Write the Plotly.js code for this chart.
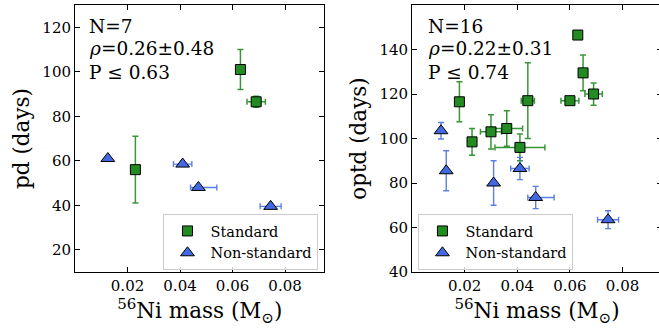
<!DOCTYPE html>
<html>
<head>
<meta charset="utf-8">
<script src="https://cdn.plot.ly/plotly-3.0.1.min.js"></script>
<style>
html, body { margin: 0; padding: 0; overflow: hidden; background: #fff; }
#chart { width: 665px; height: 331px; }
</style>
</head>
<body>
<div id="chart"></div>
<script>
// ---- Left panel: pd vs 56Ni mass ----
const stdNiPd = [0.023, 0.063, 0.069];
const stdNiPdErr = [0, 0, 0.0035];
const stdPd = [56, 101, 86.5];
const stdPdErr = [15, 9, 2.5];

const nonNiPd = [0.0125, 0.041, 0.047, 0.0745];
const nonNiPdErrMinus = [0, 0.0035, 0.003, 0.004];
const nonNiPdErrPlus = [0, 0.0035, 0.007, 0.004];
const nonPd = [61, 58.5, 48, 39.5];
const nonPdErr = [0, 0, 0, 0];

// ---- Right panel: optd vs 56Ni mass ----
const stdNiOptd = [0.018, 0.0228, 0.030, 0.036, 0.041, 0.044, 0.063, 0.065, 0.060, 0.069];
const stdNiOptdErr = [0, 0, 0.004, 0.006, 0.0095, 0.0025, 0, 0, 0.0034, 0.0033];
const stdOptd = [116.5, 98.5, 103, 104.5, 96, 117, 146.5, 129.5, 117, 120];
const stdOptdErr = [9, 6, 7.7, 8, 6, 17, 0, 8, 1.5, 5];

const nonNiOptd = [0.011, 0.013, 0.031, 0.041, 0.047, 0.0745];
const nonNiOptdErrMinus = [0, 0, 0, 0.0035, 0.003, 0.004];
const nonNiOptdErrPlus = [0, 0, 0, 0.0035, 0.007, 0.004];
const nonOptd = [103.5, 85.5, 80, 86.5, 73.5, 63.5];
const nonOptdErr = [3.7, 9, 10, 5, 5, 4];

const xTicks = [0.02, 0.04, 0.06, 0.08];
const xTickText = ['0.02', '0.04', '0.06', '0.08'];
const pdTicks = [20, 40, 60, 80, 100, 120];
const optdTicks = [40, 60, 80, 100, 120, 140, 160];

const statsLeft = ['N=7', '<i>ρ</i>=0.26±0.48', 'P ≤ 0.63'];
const statsRight = ['N=16', '<i>ρ</i>=0.22±0.31', 'P ≤ 0.74'];

const FONT = '"DejaVu Serif", "Liberation Serif", serif';
const GREEN = '#228B22';
const BLUE = '#4169E1';

function stdTrace(x, xe, y, ye, xa, ya, leg, showleg) {
  return {
    type: 'scatter', mode: 'markers', x: x, y: y, xaxis: xa, yaxis: ya,
    name: 'Standard', legend: leg, showlegend: showleg,
    marker: {symbol: 'square', size: 10, color: GREEN, line: {color: '#000', width: 1}},
    error_x: {type: 'data', array: xe, visible: true, color: 'rgba(34,139,34,0.9)', thickness: 1.5, width: 3},
    error_y: {type: 'data', array: ye, visible: true, color: 'rgba(34,139,34,0.9)', thickness: 1.5, width: 3}
  };
}
function nonTrace(x, xm, xp, y, ye, xa, ya, leg, showleg) {
  return {
    type: 'scatter', mode: 'markers', x: x, y: y, xaxis: xa, yaxis: ya,
    name: 'Non-standard', legend: leg, showlegend: showleg,
    marker: {symbol: 'triangle-up', size: 12, color: BLUE, line: {color: '#000', width: 1}},
    error_x: {type: 'data', symmetric: false, array: xp, arrayminus: xm, visible: true, color: 'rgba(65,105,225,0.85)', thickness: 1.4, width: 3},
    error_y: {type: 'data', array: ye, visible: true, color: 'rgba(65,105,225,0.85)', thickness: 1.4, width: 3}
  };
}

const data = [
  stdTrace(stdNiPd, stdNiPdErr, stdPd, stdPdErr, 'x', 'y', 'legend', true),
  nonTrace(nonNiPd, nonNiPdErrMinus, nonNiPdErrPlus, nonPd, nonPdErr, 'x', 'y', 'legend', true),
  stdTrace(stdNiOptd, stdNiOptdErr, stdOptd, stdOptdErr, 'x2', 'y2', 'legend2', true),
  nonTrace(nonNiOptd, nonNiOptdErrMinus, nonNiOptdErrPlus, nonOptd, nonOptdErr, 'x2', 'y2', 'legend2', true)
];

const W = 665, H = 331;
const L = 74.5, R = W - 661.6, T = 5, B = H - 272;
const PW = W - L - R;
const leftEnd = (324 - L) / PW;
const rightStart = (411.6 - L) / PW;

function xax(domain, anchor) {
  return {
    domain: domain, anchor: anchor, range: [0, 0.095],
    tickmode: 'array', tickvals: xTicks, ticktext: xTickText,
    ticks: 'inside', ticklen: 5, tickwidth: 1, tickcolor: '#000',
    showline: true, linecolor: '#000', linewidth: 1, mirror: 'ticks',
    showgrid: false, zeroline: false,
    tickfont: {family: FONT, size: 15, color: '#000'},
    title: {text: '<sup>56</sup>Ni mass (M<sub>⊙</sub>)', font: {family: FONT, size: 21.5, color: '#000'}, standoff: 6}
  };
}
function yax(range, ticks, title, anchor) {
  return {
    domain: [0, 1], anchor: anchor, range: range,
    tickmode: 'array', tickvals: ticks, ticktext: ticks.map(String),
    ticks: 'inside', ticklen: 5, tickwidth: 1, tickcolor: '#000',
    showline: true, linecolor: '#000', linewidth: 1, mirror: 'ticks',
    showgrid: false, zeroline: false,
    tickfont: {family: FONT, size: 15, color: '#000'},
    title: {text: title, font: {family: FONT, size: 21.5, color: '#000'}, standoff: 6}
  };
}

const annotations = [];
const lineY = [0.918, 0.837, 0.749];
statsLeft.forEach((t, i) => annotations.push({
  xref: 'x domain', yref: 'y domain', x: 0.05, y: lineY[i], xanchor: 'left', yanchor: 'middle',
  text: t, showarrow: false, font: {family: FONT, size: 18.5, color: '#000'}
}));
statsRight.forEach((t, i) => annotations.push({
  xref: 'x2 domain', yref: 'y2 domain', x: 0.054, y: lineY[i], xanchor: 'left', yanchor: 'middle',
  text: t, showarrow: false, font: {family: FONT, size: 18.5, color: '#000'}
}));

const legendBase = {
  yanchor: 'top', xanchor: 'left', y: (272 - 214) / 267,
  bgcolor: 'rgba(255,255,255,0.8)', bordercolor: '#cccccc', borderwidth: 1,
  font: {family: FONT, size: 14.5, color: '#000'}, tracegroupgap: 0, itemwidth: 36
};

const layout = {
  width: W, height: H,
  margin: {l: L, r: R, t: T, b: B, pad: 0},
  paper_bgcolor: '#fff', plot_bgcolor: '#fff',
  showlegend: true,
  font: {family: FONT, color: '#000'},
  xaxis: xax([0, leftEnd], 'y'),
  yaxis: yax([10, 130], pdTicks, 'pd (days)', 'x'),
  xaxis2: xax([rightStart, 1], 'y2'),
  yaxis2: yax([40, 160], optdTicks, 'optd (days)', 'x2'),
  legend: Object.assign({}, legendBase, {x: (163 - L) / PW}),
  legend2: Object.assign({}, legendBase, {x: (418 - L) / PW}),
  annotations: annotations
};

Plotly.newPlot('chart', data, layout, {displayModeBar: false, staticPlot: true});
</script>
</body>
</html>
